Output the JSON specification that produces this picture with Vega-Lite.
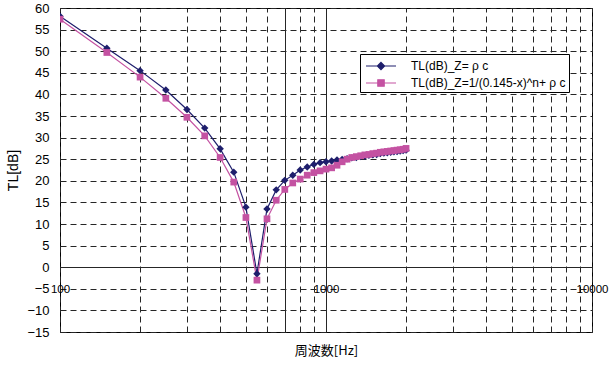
{
  "$schema": "https://vega.github.io/schema/vega-lite/v6.json",
  "width": 532,
  "height": 324,
  "autosize": {"type": "none"},
  "padding": {"left": 60, "top": 8, "right": 17, "bottom": 38},
  "background": "white",
  "config": {
    "view": {"stroke": "#000000", "strokeWidth": 1},
    "font": "Liberation Sans"
  },
  "data": {
    "values": [
      {"f": 100, "tl": 58.1, "s": "A"}, {"f": 150, "tl": 50.7, "s": "A"}, {"f": 200, "tl": 45.5, "s": "A"},
      {"f": 250, "tl": 41.0, "s": "A"}, {"f": 300, "tl": 36.5, "s": "A"}, {"f": 350, "tl": 32.2, "s": "A"},
      {"f": 400, "tl": 27.4, "s": "A"}, {"f": 450, "tl": 22.0, "s": "A"}, {"f": 500, "tl": 13.9, "s": "A"},
      {"f": 550, "tl": -1.5, "s": "A"}, {"f": 600, "tl": 13.5, "s": "A"}, {"f": 650, "tl": 17.9, "s": "A"},
      {"f": 700, "tl": 20.1, "s": "A"}, {"f": 750, "tl": 21.3, "s": "A"}, {"f": 800, "tl": 22.5, "s": "A"},
      {"f": 850, "tl": 23.2, "s": "A"}, {"f": 900, "tl": 23.8, "s": "A"}, {"f": 950, "tl": 24.2, "s": "A"},
      {"f": 1000, "tl": 24.4, "s": "A"}, {"f": 1050, "tl": 24.6, "s": "A"}, {"f": 1100, "tl": 24.8, "s": "A"},
      {"f": 1150, "tl": 24.95, "s": "A"}, {"f": 1200, "tl": 25.1, "s": "A"}, {"f": 1250, "tl": 25.3, "s": "A"},
      {"f": 1300, "tl": 25.4, "s": "A"}, {"f": 1350, "tl": 25.6, "s": "A"}, {"f": 1400, "tl": 25.7, "s": "A"},
      {"f": 1450, "tl": 25.9, "s": "A"}, {"f": 1500, "tl": 26.0, "s": "A"}, {"f": 1550, "tl": 26.1, "s": "A"},
      {"f": 1600, "tl": 26.3, "s": "A"}, {"f": 1650, "tl": 26.4, "s": "A"}, {"f": 1700, "tl": 26.5, "s": "A"},
      {"f": 1750, "tl": 26.6, "s": "A"}, {"f": 1800, "tl": 26.7, "s": "A"}, {"f": 1850, "tl": 26.8, "s": "A"},
      {"f": 1900, "tl": 26.9, "s": "A"}, {"f": 1950, "tl": 27.0, "s": "A"}, {"f": 2000, "tl": 27.1, "s": "A"},
      {"f": 100, "tl": 57.4, "s": "B"}, {"f": 150, "tl": 49.7, "s": "B"}, {"f": 200, "tl": 44.0, "s": "B"},
      {"f": 250, "tl": 39.1, "s": "B"}, {"f": 300, "tl": 34.7, "s": "B"}, {"f": 350, "tl": 30.4, "s": "B"},
      {"f": 400, "tl": 25.4, "s": "B"}, {"f": 450, "tl": 19.7, "s": "B"}, {"f": 500, "tl": 11.5, "s": "B"},
      {"f": 550, "tl": -3.0, "s": "B"}, {"f": 600, "tl": 11.2, "s": "B"}, {"f": 650, "tl": 15.5, "s": "B"},
      {"f": 700, "tl": 18.0, "s": "B"}, {"f": 750, "tl": 19.5, "s": "B"}, {"f": 800, "tl": 20.4, "s": "B"},
      {"f": 850, "tl": 21.3, "s": "B"}, {"f": 900, "tl": 21.9, "s": "B"}, {"f": 950, "tl": 22.3, "s": "B"},
      {"f": 1000, "tl": 22.7, "s": "B"}, {"f": 1050, "tl": 23.0, "s": "B"}, {"f": 1100, "tl": 23.6, "s": "B"},
      {"f": 1150, "tl": 24.4, "s": "B"}, {"f": 1200, "tl": 25.0, "s": "B"}, {"f": 1250, "tl": 25.4, "s": "B"},
      {"f": 1300, "tl": 25.6, "s": "B"}, {"f": 1350, "tl": 25.8, "s": "B"}, {"f": 1400, "tl": 26.0, "s": "B"},
      {"f": 1450, "tl": 26.1, "s": "B"}, {"f": 1500, "tl": 26.3, "s": "B"}, {"f": 1550, "tl": 26.4, "s": "B"},
      {"f": 1600, "tl": 26.6, "s": "B"}, {"f": 1650, "tl": 26.7, "s": "B"}, {"f": 1700, "tl": 26.8, "s": "B"},
      {"f": 1750, "tl": 26.9, "s": "B"}, {"f": 1800, "tl": 27.0, "s": "B"}, {"f": 1850, "tl": 27.1, "s": "B"},
      {"f": 1900, "tl": 27.2, "s": "B"}, {"f": 1950, "tl": 27.3, "s": "B"}, {"f": 2000, "tl": 27.5, "s": "B"}
    ]
  },
  "transform": [
    {"lookup": "s", "from": {"data": {"values": [{"s": "A", "name": "TL(dB)_Z= ρ c"}, {"s": "B", "name": "TL(dB)_Z=1/(0.145-x)^n+ ρ c"}]}, "key": "s", "fields": ["name"]}}
  ],
  "encoding": {
    "y": {
      "field": "tl", "type": "quantitative",
      "scale": {"domain": [-15, 60], "nice": false, "zero": false},
      "axis": {
        "title": "TL[dB]", "titleFont": "Liberation Sans", "titleFontSize": 14, "titleFontWeight": "normal",
        "titleColor": "#000000", "titlePadding": 6,
        "values": [-15, -10, -5, 0, 5, 10, 15, 20, 25, 30, 35, 40, 45, 50, 55, 60],
        "domain": false, "ticks": false, "labelPadding": 11,
        "labelFont": "Liberation Sans", "labelFontSize": 13, "labelColor": "#000000",
        "grid": true, "gridColor": "#262626", "gridWidth": 1, "gridOpacity": 1,
        "gridDash": {"condition": {"test": "datum.value == 0", "value": []}, "value": [6, 4]}
      }
    },
    "color": {
      "field": "name", "type": "nominal",
      "scale": {"domain": ["TL(dB)_Z= ρ c", "TL(dB)_Z=1/(0.145-x)^n+ ρ c"], "range": ["#1e1e6c", "#c452a2"]},
      "legend": {
        "title": null, "orient": "none", "legendX": 300, "legendY": 46,
        "direction": "vertical",
        "strokeColor": "#000000", "fillColor": "#ffffff", "padding": 3,
        "symbolSize": 256, "symbolOffset": 9, "labelOffset": 21, "rowPadding": 2,
        "labelFont": "Liberation Sans", "labelFontSize": 12, "labelColor": "#000000",
        "encode": {
          "symbols": {
            "update": {
              "shape": {"signal": "datum.index === 0 ? 'M-1.875,0H1.875M0,-0.45L0.45,0L0,0.45L-0.45,0Z' : 'M-1.875,0H1.875M-0.4,-0.4H0.4V0.4H-0.4Z'"},
              "stroke": {"signal": "datum.index === 0 ? '#1e1e6c' : '#c452a2'"},
              "fill": {"signal": "datum.index === 0 ? '#1e1e6c' : '#c452a2'"},
              "strokeWidth": {"value": 1.2},
              "opacity": {"value": 1}
            }
          }
        }
      }
    }
  },
  "layer": [
    {
      "mark": {"type": "line", "strokeWidth": 1.2, "clip": true},
      "encoding": {
        "x": {
          "field": "f", "type": "quantitative",
          "scale": {"type": "log", "domain": [100, 10000], "nice": false},
          "axis": {
            "orient": "top", "title": null, "labels": false, "ticks": false, "domain": false,
            "grid": true,
            "values": [100, 200, 300, 400, 500, 600, 700, 800, 900, 1000, 2000, 3000, 4000, 5000, 6000, 7000, 8000, 9000, 10000],
            "gridColor": "#262626", "gridWidth": 1, "gridOpacity": 1,
            "gridDash": {"condition": {"test": "datum.value == 700 || datum.value == 1000", "value": []}, "value": [6, 4]}
          }
        }
      }
    },
    {
      "mark": {"type": "point", "filled": true, "opacity": 1, "clip": true},
      "encoding": {
        "x": {
          "field": "f", "type": "quantitative",
          "axis": {
            "orient": "bottom", "offset": -65, "title": "周波数[Hz]",
            "titleFont": "Noto Sans CJK JP", "titleFontSize": 13, "titleFontWeight": "normal", "titleColor": "#000000",
            "titlePadding": 50,
            "values": [100, 1000, 10000], "format": "d",
            "domain": false, "ticks": false, "grid": false, "labelPadding": 16,
            "labelFlush": false, "labelOverlap": false, "labelBound": false,
            "labelFont": "Liberation Sans", "labelFontSize": 11.5, "labelColor": "#000000"
          }
        },
        "shape": {
          "field": "s", "type": "nominal",
          "scale": {"domain": ["A", "B"], "range": ["diamond", "square"]},
          "legend": null
        },
        "size": {
          "field": "s", "type": "nominal",
          "scale": {"domain": ["A", "B"], "range": [55, 45]},
          "legend": null
        }
      }
    }
  ],
  "resolve": {"axis": {"x": "independent"}}
}
